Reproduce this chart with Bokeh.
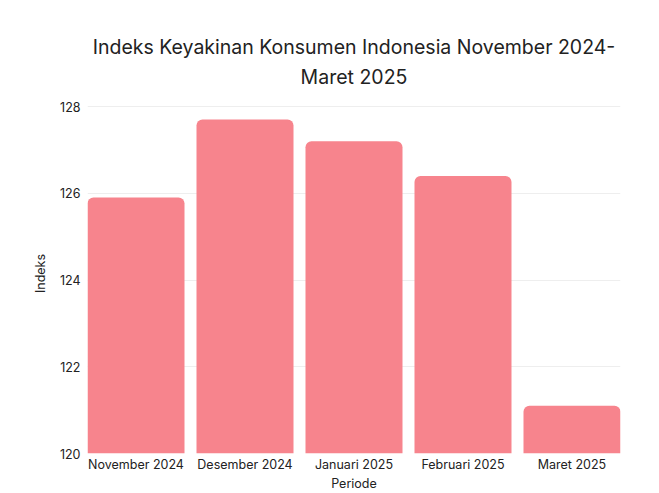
from bokeh.plotting import figure
from bokeh.models import Title, FixedTicker, Range1d, ColumnDataSource
from bokeh.embed import file_html
from bokeh.resources import INLINE

periode = ["November 2024", "Desember 2024", "Januari 2025", "Februari 2025", "Maret 2025"]
indeks = [125.9, 127.7, 127.2, 126.4, 121.1]

FONT = "Inter"
pos = list(range(len(periode)))
src = ColumnDataSource(dict(x=pos, top=indeks, label=periode))

p = figure(width=651, height=493, output_backend="svg", toolbar_location=None,
           x_range=Range1d(-0.445, len(periode) - 1 + 0.445), y_range=Range1d(120, 128.3),
           min_border_left=87, min_border_right=31, min_border_top=93, min_border_bottom=40)
p.title = None
p.add_layout(Title(text="Maret 2025", align="center", text_font=FONT, text_font_size="19.5px",
                   text_font_style="normal", text_color="#222222", standoff=10), "above")
p.add_layout(Title(text="Indeks Keyakinan Konsumen Indonesia November 2024-", align="center",
                   text_font=FONT, text_font_size="19.5px", text_font_style="normal",
                   text_color="#222222", standoff=-3), "above")

p.vbar(x="x", top="top", bottom=120, width=0.89, source=src, fill_color="#F7848D",
       line_color=None, border_radius=(6, 6, 0, 0))

p.outline_line_color = None
p.xgrid.grid_line_color = None
p.ygrid.grid_line_color = "#EEEEEE"
p.ygrid.ticker = FixedTicker(ticks=[120, 122, 124, 126, 128])

p.yaxis.ticker = FixedTicker(ticks=[120, 122, 124, 126, 128])
p.xaxis.ticker = FixedTicker(ticks=pos)
p.xaxis.major_label_overrides = {i: l for i, l in enumerate(periode)}

for ax in (p.xaxis[0], p.yaxis[0]):
    ax.axis_line_color = None
    ax.major_tick_line_color = None
    ax.minor_tick_line_color = None
    ax.major_tick_out = 0
    ax.major_tick_in = 0
    ax.minor_tick_out = 0
    ax.major_label_text_font = FONT
    ax.major_label_text_font_size = "12.5px"
    ax.major_label_text_color = "#222222"
    ax.axis_label_text_font = FONT
    ax.axis_label_text_font_size = "12.5px"
    ax.axis_label_text_font_style = "normal"
    ax.axis_label_text_color = "#222222"

p.xaxis.axis_label = "Periode"
p.yaxis.axis_label = "Indeks"
p.xaxis.major_label_standoff = 3
p.xaxis.axis_label_standoff = 1
p.yaxis.major_label_standoff = 7
p.yaxis.axis_label_standoff = 9

open("out.html", "w").write(file_html(p, INLINE))
